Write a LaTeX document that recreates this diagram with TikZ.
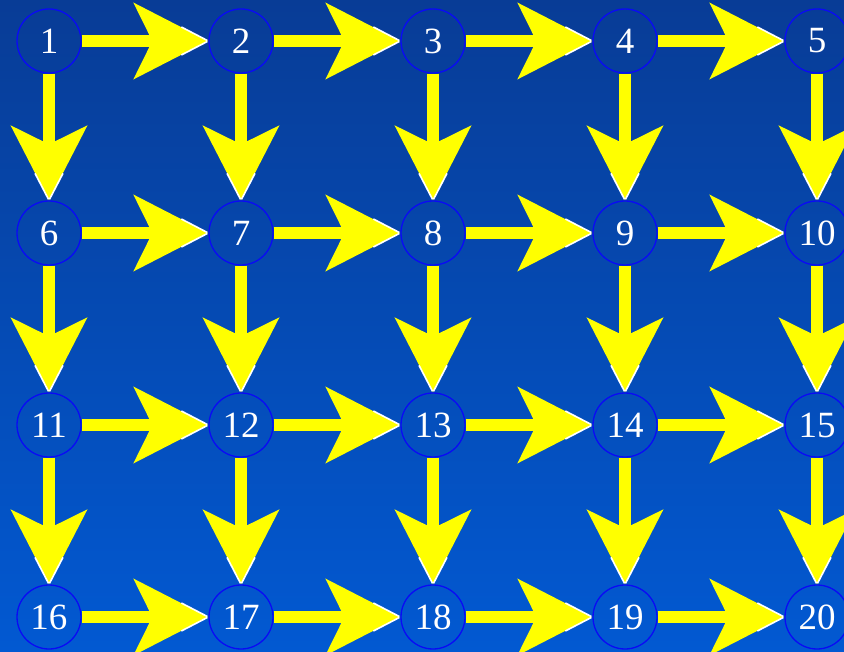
\documentclass[tikz,border=0pt]{standalone}
\usepackage{fontspec}
\setmainfont{Liberation Serif}
\usetikzlibrary{positioning, arrows.meta, decorations.markings}
\definecolor{SkyTop}{HTML}{083C96}
\definecolor{SkyBot}{HTML}{0259D2}
\definecolor{RingB}{HTML}{0A0AF5}
\definecolor{ArrY}{HTML}{FFFF00}
\tikzset{
  cell/.style={circle, draw=RingB, line width=1.3pt, minimum size=64pt, inner sep=0pt, text=white, font=\fontsize{37}{37}\selectfont},
  arr/.style={draw=ArrY, line width=12pt, -{Stealth[length=74pt, width=75pt, inset=18pt, ArrY]},
    postaction={decorate}, decoration={markings, mark=at position 1 with {\draw[white, line width=1.6pt, -] (-27pt,14pt) -- (-1pt,0.5pt) (-27pt,-14pt) -- (-1pt,-0.5pt);}}}
}

\begin{document}
\begin{tikzpicture}[x=1pt, y=-1pt, node distance=126.7pt and 126.7pt]
  \shade[top color=SkyTop, bottom color=SkyBot] (0,0) rectangle (844,652);
  \useasboundingbox (0,0) rectangle (844,652);
  \clip (0,0) rectangle (844,652);

  \node[cell] (n1) at (49,41) {1};
  \node[cell,right=of n1] (n2) {2};
  \node[cell,right=of n2] (n3) {3};
  \node[cell,right=of n3] (n4) {4};
  \node[cell,right=of n4] (n5) {5};
  \node[cell,below=of n1] (n6) {6};
  \node[cell,right=of n6] (n7) {7};
  \node[cell,right=of n7] (n8) {8};
  \node[cell,right=of n8] (n9) {9};
  \node[cell,right=of n9] (n10) {10};
  \node[cell,below=of n6] (n11) {11};
  \node[cell,right=of n11] (n12) {12};
  \node[cell,right=of n12] (n13) {13};
  \node[cell,right=of n13] (n14) {14};
  \node[cell,right=of n14] (n15) {15};
  \node[cell,below=of n11] (n16) {16};
  \node[cell,right=of n16] (n17) {17};
  \node[cell,right=of n17] (n18) {18};
  \node[cell,right=of n18] (n19) {19};
  \node[cell,right=of n19] (n20) {20};

  % rightward
  \draw[arr] (n1) -- (n2);
  \draw[arr] (n2) -- (n3);
  \draw[arr] (n3) -- (n4);
  \draw[arr] (n4) -- (n5);
  \draw[arr] (n6) -- (n7);
  \draw[arr] (n7) -- (n8);
  \draw[arr] (n8) -- (n9);
  \draw[arr] (n9) -- (n10);
  \draw[arr] (n11) -- (n12);
  \draw[arr] (n12) -- (n13);
  \draw[arr] (n13) -- (n14);
  \draw[arr] (n14) -- (n15);
  \draw[arr] (n16) -- (n17);
  \draw[arr] (n17) -- (n18);
  \draw[arr] (n18) -- (n19);
  \draw[arr] (n19) -- (n20);

  % downward
  \draw[arr] (n1) -- (n6);
  \draw[arr] (n2) -- (n7);
  \draw[arr] (n3) -- (n8);
  \draw[arr] (n4) -- (n9);
  \draw[arr] (n5) -- (n10);
  \draw[arr] (n6) -- (n11);
  \draw[arr] (n7) -- (n12);
  \draw[arr] (n8) -- (n13);
  \draw[arr] (n9) -- (n14);
  \draw[arr] (n10) -- (n15);
  \draw[arr] (n11) -- (n16);
  \draw[arr] (n12) -- (n17);
  \draw[arr] (n13) -- (n18);
  \draw[arr] (n14) -- (n19);
  \draw[arr] (n15) -- (n20);
\end{tikzpicture}
\end{document}
